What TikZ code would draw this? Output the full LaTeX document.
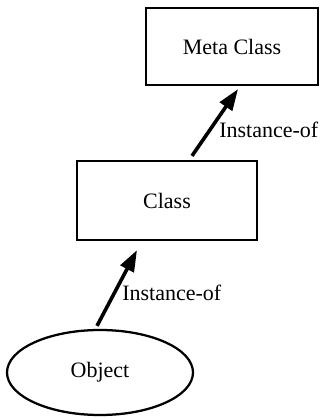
\documentclass[tikz,border=0pt]{standalone}
\usepackage{fontspec}
\setmainfont{Liberation Serif}
\usetikzlibrary{positioning, arrows.meta, shapes.geometric, calc}

\begin{document}
\begin{tikzpicture}[
        x=0.75pt, y=-0.75pt,
        font=\fontsize{16.5}{19}\selectfont,
        blk/.style={rectangle, draw, line width=1.7pt, inner sep=0pt},
        ell/.style={ellipse, draw, line width=1.7pt, inner sep=0pt,
            minimum width=139.5pt, minimum height=63.75pt},
        arr/.style={-{Triangle[length=16pt, width=11pt]}, line width=2.7pt},
        lbl/.style={anchor=west, inner sep=0pt}
    ]
    \useasboundingbox (0,0) rectangle (322,418);
    \node[blk, minimum width=129pt, minimum height=57.75pt] (meta) at (232,46.5) {Meta Class};
    \node[blk, minimum width=135pt, minimum height=59.25pt] (class) at (167,200.5) {Class};
    \node[ell] (obj) at (100,372.5) {Object};
    \draw[arr] ($(class.north)+(25,-4)$) -- ($(meta.south)+(6,3)$);
    \draw[arr] ($(obj.north)+(-3,-3)$) -- ($(class.south)+(-30,9)$);
    \node[lbl] (inst1) at (219,130) {Instance-of};
    \node[lbl] (inst2) at (122,293) {Instance-of};
\end{tikzpicture}
\end{document}
